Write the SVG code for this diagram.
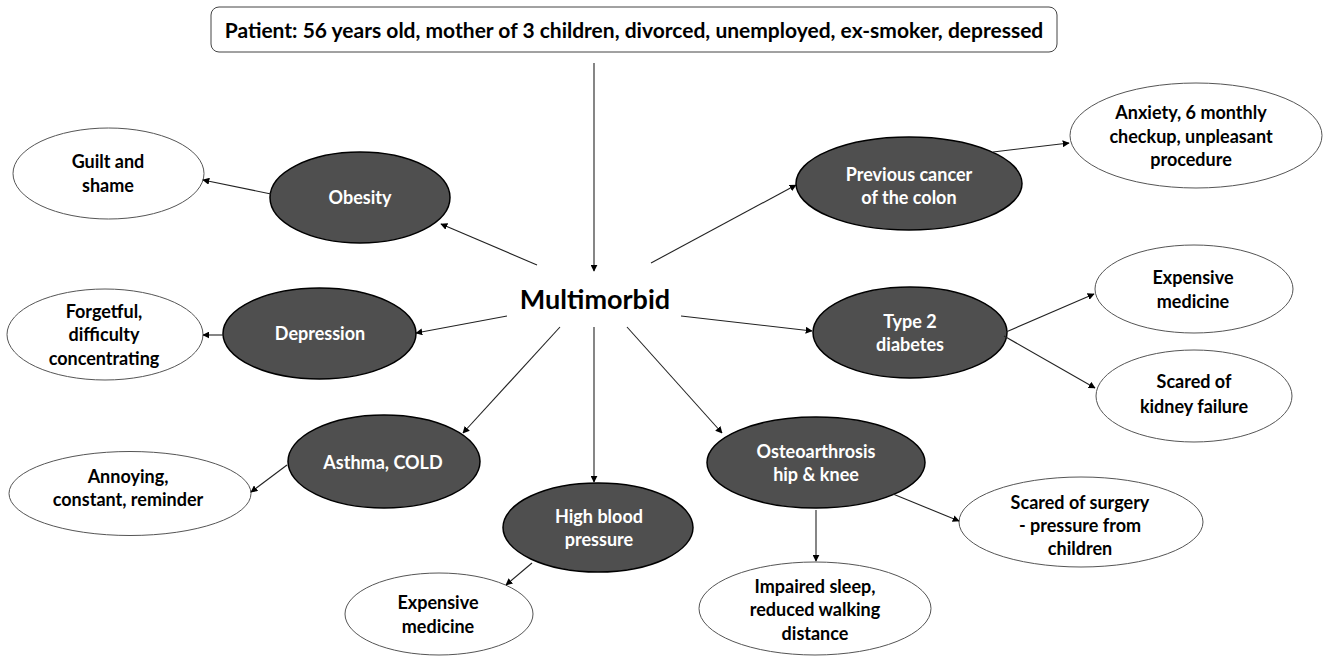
<svg xmlns="http://www.w3.org/2000/svg" width="1325" height="660" viewBox="0 0 1325 660">
  <defs>
    <marker id="arrow" viewBox="0 0 10 10" refX="9" refY="5" markerWidth="7" markerHeight="7" orient="auto-start-reverse" markerUnits="userSpaceOnUse">
      <path d="M0,0 L10,5 L0,10 z" fill="#000"/>
    </marker>
    <style>
      text { font-family: Lato, "Open Sans", "Liberation Sans", sans-serif; font-weight: bold; text-anchor: middle; }
      .dark ellipse { fill: #4f4f4f; stroke: #000; stroke-width: 1.5; }
      .dark text { fill: #fff; font-size: 18px; }
      .light ellipse { fill: #fff; stroke: #555; stroke-width: 1; }
      .light text { fill: #000; font-size: 18px; }
      #connectors line { stroke: #222; stroke-width: 1.1; marker-end: url(#arrow); }
    </style>
  </defs>
  <rect width="1325" height="660" fill="#fff"/>

  <!-- patient header -->
  <g id="patient">
    <rect x="211" y="7" width="846" height="45" rx="8" ry="8" fill="#fff" stroke="#444" stroke-width="1"/>
    <text x="634" y="38" font-size="21">Patient: 56 years old, mother of 3 children, divorced, unemployed, ex-smoker, depressed</text>
  </g>

  <!-- central label -->
  <g id="multimorbid">
    <text x="595" y="309" font-size="27">Multimorbid</text>
  </g>

  <!-- conditions -->
  <g id="obesity" class="dark">
    <ellipse cx="360" cy="197.5" rx="90" ry="45.5"/>
    <text x="360" y="204">Obesity</text>
  </g>
  <g id="depression" class="dark">
    <ellipse cx="319.5" cy="333.5" rx="96.5" ry="45.5"/>
    <text x="320" y="340">Depression</text>
  </g>
  <g id="asthma" class="dark">
    <ellipse cx="384" cy="461.5" rx="96" ry="46.5"/>
    <text x="383" y="469">Asthma, COLD</text>
  </g>
  <g id="blood-pressure" class="dark">
    <ellipse cx="598" cy="527.5" rx="95" ry="44.5"/>
    <text x="599" y="523">High blood</text>
    <text x="599" y="546">pressure</text>
  </g>
  <g id="osteoarthrosis" class="dark">
    <ellipse cx="816" cy="462.5" rx="109" ry="45.5"/>
    <text x="816" y="458">Osteoarthrosis</text>
    <text x="816" y="481">hip &amp; knee</text>
  </g>
  <g id="cancer" class="dark">
    <ellipse cx="909" cy="183.5" rx="113" ry="46.5"/>
    <text x="909" y="181">Previous cancer</text>
    <text x="909" y="204">of the colon</text>
  </g>
  <g id="diabetes" class="dark">
    <ellipse cx="910" cy="332.5" rx="97" ry="45.5"/>
    <text x="910" y="328">Type 2</text>
    <text x="910" y="351">diabetes</text>
  </g>

  <!-- consequences -->
  <g id="guilt" class="light">
    <ellipse cx="108.5" cy="173.5" rx="95.5" ry="45.5"/>
    <text x="108" y="168">Guilt and</text>
    <text x="108" y="192">shame</text>
  </g>
  <g id="forgetful" class="light">
    <ellipse cx="105" cy="334.5" rx="98" ry="45.5"/>
    <text x="104" y="318">Forgetful,</text>
    <text x="104" y="341">difficulty</text>
    <text x="104" y="365">concentrating</text>
  </g>
  <g id="annoying" class="light">
    <ellipse cx="130" cy="493.5" rx="121" ry="42"/>
    <text x="128" y="483">Annoying,</text>
    <text x="128" y="506">constant, reminder</text>
  </g>
  <g id="bp-medicine" class="light">
    <ellipse cx="439" cy="614" rx="94" ry="41"/>
    <text x="438" y="609">Expensive</text>
    <text x="438" y="633">medicine</text>
  </g>
  <g id="sleep" class="light">
    <ellipse cx="815" cy="608.5" rx="116" ry="46.5"/>
    <text x="815" y="593">Impaired sleep,</text>
    <text x="815" y="616">reduced walking</text>
    <text x="815" y="640">distance</text>
  </g>
  <g id="surgery" class="light">
    <ellipse cx="1081" cy="522" rx="122" ry="45"/>
    <text x="1080" y="509">Scared of surgery</text>
    <text x="1080" y="532">- pressure from</text>
    <text x="1080" y="555">children</text>
  </g>
  <g id="anxiety" class="light">
    <ellipse cx="1196" cy="135.5" rx="126" ry="52.5"/>
    <text x="1191" y="119">Anxiety, 6 monthly</text>
    <text x="1191" y="143">checkup, unpleasant</text>
    <text x="1191" y="166">procedure</text>
  </g>
  <g id="diabetes-medicine" class="light">
    <ellipse cx="1194" cy="289" rx="99" ry="44"/>
    <text x="1193" y="284">Expensive</text>
    <text x="1193" y="308">medicine</text>
  </g>
  <g id="kidney" class="light">
    <ellipse cx="1194" cy="396" rx="98" ry="46"/>
    <text x="1194" y="388">Scared of</text>
    <text x="1194" y="413">kidney failure</text>
  </g>

  <!-- connectors -->
  <g id="connectors">
    <line x1="594" y1="63" x2="594" y2="271"/>
    <line x1="537" y1="265" x2="441" y2="224"/>
    <line x1="271" y1="194" x2="203" y2="180"/>
    <line x1="507" y1="316" x2="416" y2="333"/>
    <line x1="224" y1="335" x2="203" y2="335"/>
    <line x1="560" y1="327" x2="463" y2="433"/>
    <line x1="287" y1="465" x2="251" y2="492"/>
    <line x1="594" y1="327" x2="594" y2="482"/>
    <line x1="532" y1="563" x2="506" y2="585"/>
    <line x1="627" y1="327" x2="722" y2="433"/>
    <line x1="816" y1="510" x2="816" y2="561"/>
    <line x1="893" y1="494" x2="959" y2="521"/>
    <line x1="651" y1="263" x2="796" y2="185"/>
    <line x1="993" y1="152" x2="1069" y2="143"/>
    <line x1="681" y1="316" x2="812" y2="331"/>
    <line x1="1006" y1="332" x2="1094" y2="294"/>
    <line x1="1004" y1="336" x2="1095" y2="388"/>
  </g>
</svg>
